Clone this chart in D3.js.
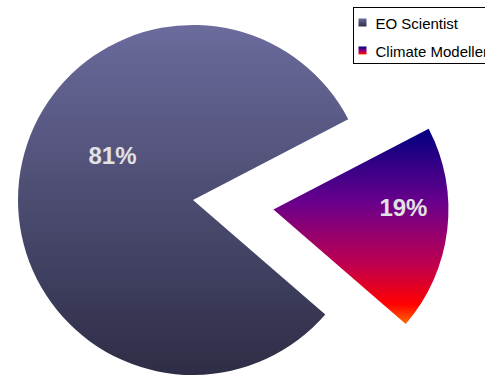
<!DOCTYPE html>
<html>
<head>
<meta charset="utf-8">
<script src="https://cdn.jsdelivr.net/npm/d3@7"></script>
<style>
  body { margin: 0; background: #fff; }
  svg { display: block; font-family: Arial, "Liberation Sans", sans-serif; }
</style>
</head>
<body>
<svg id="chart" width="485" height="377"></svg>
<script>
// data
const categories = ["EO Scientist", "Climate Modeller"];
const values = [81, 19];
const pctLabels = ["81%", "19%"];

const width = 485, height = 377;
const cx = 193, cy = 200, radius = 175;
const explode = 81;

const svg = d3.select("#chart");
const defs = svg.append("defs");

// gradient fills (top -> bottom)
const gradStops = [
  [["0%", "#6b6b9d"], ["100%", "#2d2d46"]],
  [["0%", "#000080"], ["38%", "#6a008c"], ["70%", "#c0004e"], ["90%", "#ff0000"], ["100%", "#ff6a00"]]
];
gradStops.forEach(function (stops, i) {
  let g = defs.append("linearGradient").attr("id", "grad" + i)
    .attr("x1", 0).attr("y1", 0).attr("x2", 0).attr("y2", 1);
  stops.forEach(function (s) {
    g.append("stop").attr("offset", s[0]).attr("stop-color", s[1]);
  });
});

const startA = 130.9 * Math.PI / 180;
const pie = d3.pie().sort(null)
  .startAngle(startA).endAngle(startA + 2 * Math.PI);
const arcs = pie(values);
const arc = d3.arc().innerRadius(0).outerRadius(radius);

// small slice pulled out
function offset(d, i) {
  if (i == 0) return [0, 0];
  let mid = (d.startAngle + d.endAngle) / 2;
  return [Math.sin(mid) * explode, -Math.cos(mid) * explode];
}

const slices = svg.append("g").attr("transform", "translate(" + cx + "," + cy + ")");
slices.selectAll("path").data(arcs).enter().append("path")
  .attr("d", arc)
  .attr("transform", function (d, i) { let o = offset(d, i); return "translate(" + o[0] + "," + o[1] + ")"; })
  .attr("fill", function (d, i) { return "url(#grad" + i + ")"; });

// labels (placed the way the original tool put them)
const labelPos = [{r: 92, a: 299}, {r: 130, a: 89}];
slices.selectAll("text").data(arcs).enter().append("text")
  .attr("x", function (d, i) {
    let o = offset(d, i), p = labelPos[i];
    return o[0] + Math.sin(p.a * Math.PI / 180) * p.r;
  })
  .attr("y", function (d, i) {
    let o = offset(d, i), p = labelPos[i];
    return o[1] - Math.cos(p.a * Math.PI / 180) * p.r;
  })
  .attr("dy", "0.36em")
  .attr("text-anchor", "middle")
  .attr("font-size", 24)
  .attr("font-weight", "bold")
  .attr("fill", "#e2e2e2")
  .text(function (d, i) { return pctLabels[i]; });

// legend
const legend = svg.append("g").attr("transform", "translate(353.5,7.5)");
legend.append("rect").attr("width", 150).attr("height", 56)
  .attr("fill", "#fff").attr("stroke", "#000").attr("stroke-width", 1);
const items = legend.selectAll("g.item").data(categories).enter().append("g")
  .attr("class", "item")
  .attr("transform", function (d, i) { return "translate(0," + (i * 28) + ")"; });
items.append("rect").attr("x", 5).attr("y", 11).attr("width", 8).attr("height", 8)
  .attr("fill", function (d, i) { return "url(#grad" + i + ")"; });
items.append("text").attr("x", 22).attr("y", 21)
  .attr("font-size", 15).attr("fill", "#000")
  .text(function (d) { return d; });
</script>
</body>
</html>
